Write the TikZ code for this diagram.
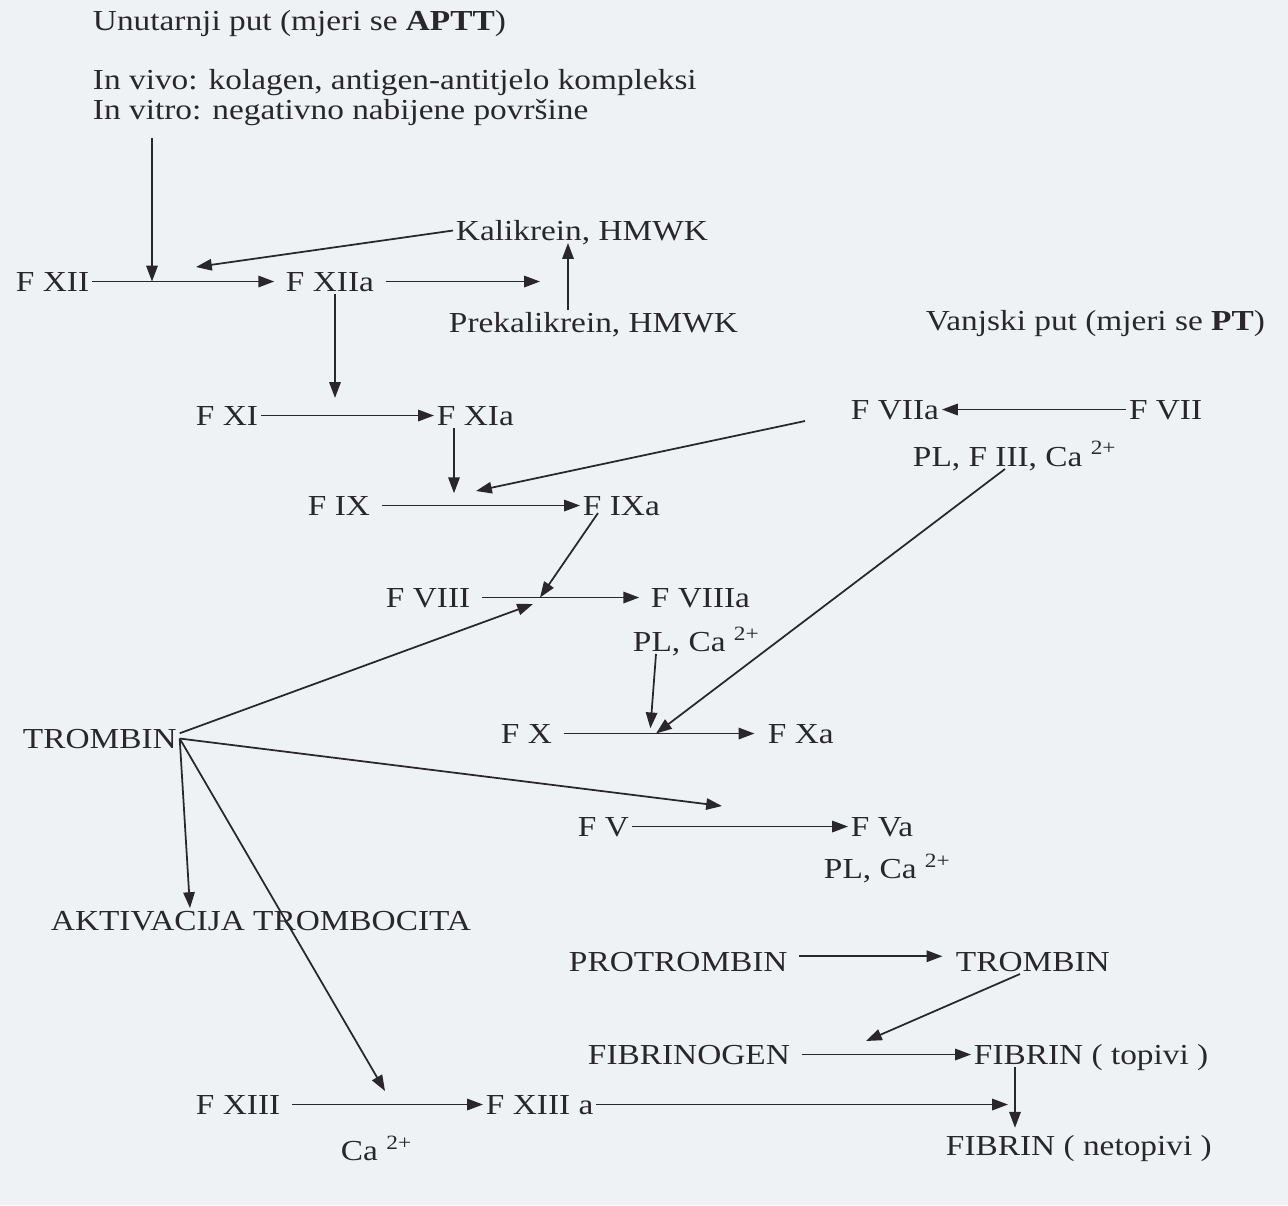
\documentclass[tikz,border=0pt]{standalone}
\usepackage{fontspec}
\setmainfont{Liberation Serif}[FakeStretch=1.15]
\usetikzlibrary{arrows.meta}
\definecolor{paper}{RGB}{239,242,244}
\definecolor{ink}{RGB}{40,40,44}

\begin{document}
\begin{tikzpicture}[x=0.02cm,y=-0.02cm,
		txt/.style={anchor=base west,inner sep=1.5pt,text height=10.8pt,text depth=0pt,text=ink,font=\fontsize{16.5}{19}\selectfont},
		arr/.style={draw=ink,line width=1pt,-{Triangle[length=9pt,width=6.5pt]}},
		gap/.style={shorten <=5pt}]
				\fill[paper] (0,0) rectangle (1288,1205);
				\useasboundingbox (0,0) rectangle (1288,1205);

				\node[txt] (unut) at (90,30) {Unutarnji put (mjeri se \textbf{APTT})};
				\node[txt] (invivo) at (90,89) {In vivo: kolagen, antigen-antitjelo kompleksi};
				\node[txt] (invitro) at (90,119) {In vitro: negativno nabijene površine};
				\node[txt] (fxii) at (13,291) {F XII};
				\node[txt] (fxiia) at (283,291) {F XIIa};
				\node[txt] (kalik) at (453,240) {Kalikrein, HMWK};
				\node[txt] (prekal) at (446,332) {Prekalikrein, HMWK};
				\node[txt] (vanj) at (923,330) {Vanjski put (mjeri se \textbf{PT})};
				\node[txt] (fxi) at (193,425) {F XI};
				\node[txt] (fxia) at (434,425) {F XIa};
				\node[txt] (fviia) at (848,419) {F VIIa};
				\node[txt] (fvii) at (1126,419) {F VII};
				\node[txt] (plf3) at (910,466) {PL, F III, Ca \textsuperscript{2+}};
				\node[txt] (fix) at (305,515) {F IX};
				\node[txt] (fixa) at (580,515) {F IXa};
				\node[txt] (fviii) at (383,607) {F VIII};
				\node[txt] (fviiia) at (648,607) {F VIIIa};
				\node[txt] (plca) at (630,651) {PL, Ca \textsuperscript{2+}};
				\node[txt] (fx) at (498,743) {F X};
				\node[txt] (fxa) at (765,743) {F Xa};
				\node[txt] (trombin) at (20,748) {TROMBIN};
				\node[txt] (fv) at (575,836) {F V};
				\node[txt] (fva) at (848,836) {F Va};
				\node[txt] (plcab) at (821,878) {PL, Ca \textsuperscript{2+}};
				\node[txt] (aktiv) at (48,930) {AKTIVACIJA TROMBOCITA};
				\node[txt] (protr) at (566,971) {PROTROMBIN};
				\node[txt] (trombinb) at (953,971) {TROMBIN};
				\node[txt] (fibrinogen) at (585,1064) {FIBRINOGEN};
				\node[txt] (fibtop) at (971,1064) {FIBRIN ( topivi )};
				\node[txt] (fxiii) at (193,1114) {F XIII};
				\node[txt] (fxiiia) at (483,1114) {F XIII a};
				\node[txt] (ca) at (338,1160) {Ca \textsuperscript{2+}};
				\node[txt] (fibnet) at (943,1155) {FIBRIN ( netopivi )};

				\coordinate (start) at (152,138);
				\coordinate (j1) at (152,0 |- fxii.east);
				\coordinate (k1) at (196,267);
				\coordinate (k2) at (540,0 |- fxiia.east);
				\coordinate (c7) at (805,421);
				\coordinate (j4) at (476,491);
				\coordinate (s5) at (598,513);
				\coordinate (j5) at (540,0 |- fviii.east);
				\coordinate (j7) at (533,604);
				\coordinate (c8) at (722,806);
				\coordinate (j9) at (385,1091);
				\coordinate (j10) at (866,1041);
				\coordinate (j11) at (1008,0 |- fxiiia.east);

				\draw[arr] (start) -- (j1);
				\draw[arr,shorten >=5pt] (fxii.east) -- (fxiia.west);
				\draw[arr] (kalik.west) -- (k1);
				\draw[arr,gap] (fxiia.east) -- (k2);
				\draw[arr] (568,0 |- prekal.north) -- (568,0 |- kalik.south);
				\draw[arr,shorten >=10pt] (335,0 |- fxiia.south) -- (335,0 |- fxi.east);
				\draw[arr] (fxi.east) -- (fxia.west);
				\draw[arr,shorten >=7pt] (454,0 |- fxia.south) -- (454,0 |- fix.east);
				\draw[arr] (fvii.west) -- (fviia.east);
				\draw[arr] (c7) -- (j4);
				\draw[arr,gap] (fix.east) -- (fixa.west);
				\draw[arr] (s5) -- (j5);
				\draw[arr,gap,shorten >=5pt] (fviii.east) -- (fviiia.west);
				\draw[arr,shorten >=3pt] (656,0 |- plca.south) -- (650,0 |- fx.east);
				\draw[arr] (1005,0 |- plf3.south) -- (656,0 |- fx.east);
				\draw[arr,gap,shorten >=6pt] (fx.east) -- (fxa.west);
				\draw[arr] ([yshift=3pt]trombin.east) -- (j7);
				\draw[arr] (trombin.east) -- (c8);
				\draw[arr] (trombin.east) -- (190,0 |- aktiv.north);
				\draw[arr] (trombin.east) -- (j9);
				\draw[arr] (fv.east) -- (fva.west);
				\draw[arr,gap,shorten >=6pt] ([yshift=3pt]protr.east) -- ([yshift=3pt]trombinb.west);
				\draw[arr] (1020,0 |- trombinb.south) -- (j10);
				\draw[arr,gap] (fibrinogen.east) -- (fibtop.west);
				\draw[arr,shorten >=3pt] (1015,0 |- fibtop.south) -- (1015,0 |- fibnet.north);
				\draw[arr,gap] (fxiii.east) -- (fxiiia.west);
				\draw[arr] (fxiiia.east) -- (j11);
				\end{tikzpicture}
\end{document}
